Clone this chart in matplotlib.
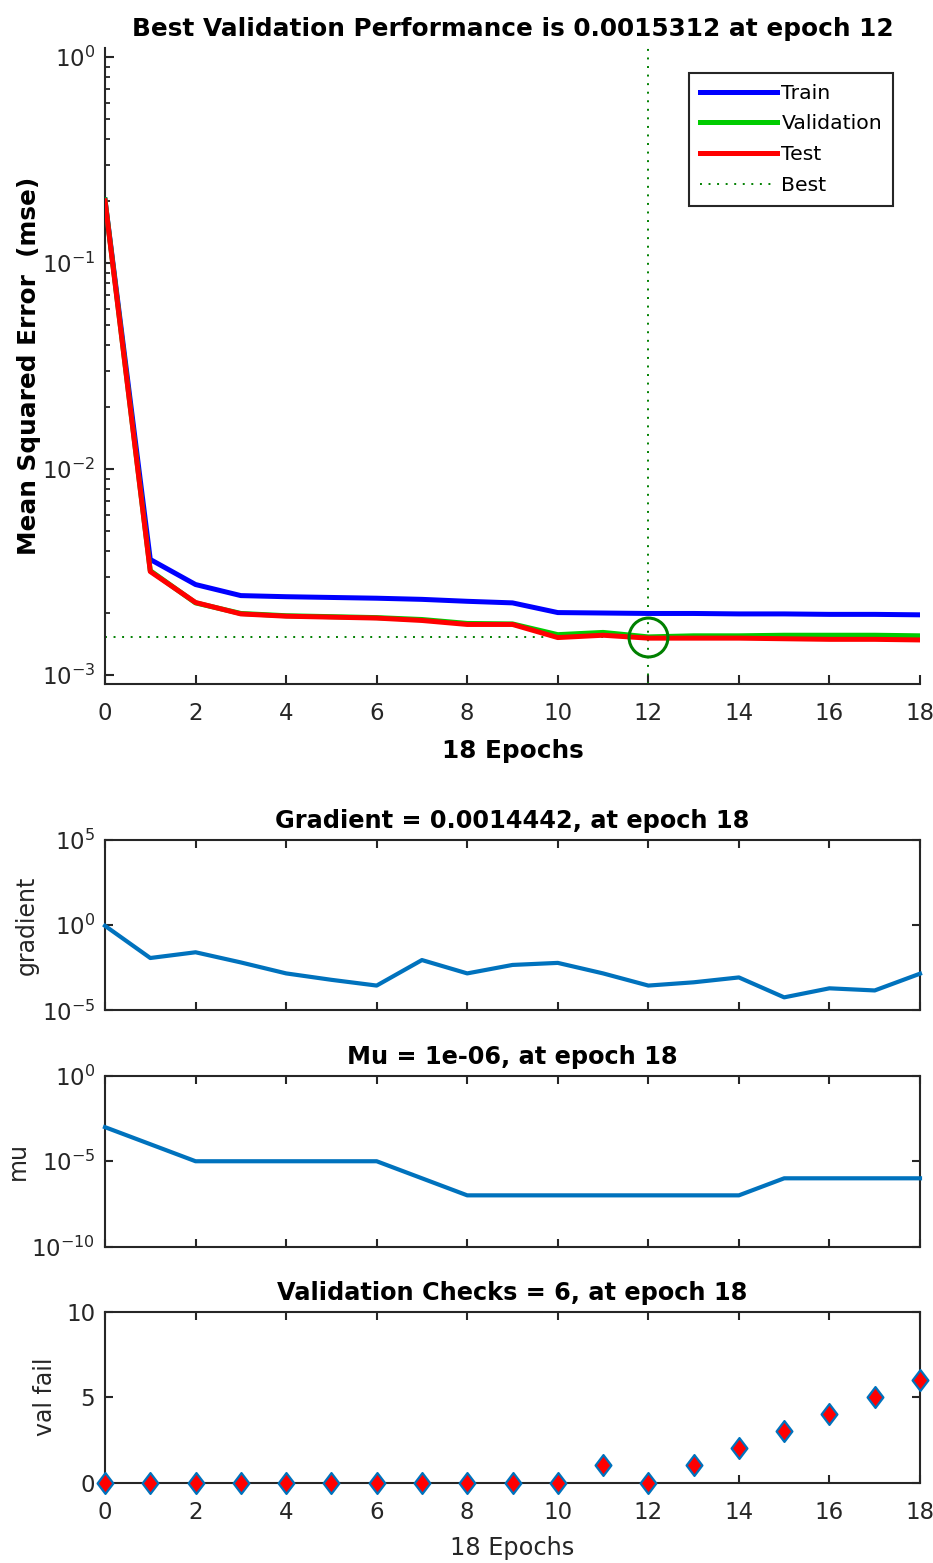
import numpy as np
import matplotlib
matplotlib.use("Agg")
import matplotlib.pyplot as plt
from matplotlib.ticker import LogLocator, NullFormatter, NullLocator, FixedLocator
from matplotlib.path import Path

# ---------------- data ----------------
epochs = list(range(19))
train_perf = [0.203, 0.00364, 0.00275, 0.00243, 0.00240, 0.00238, 0.00236, 0.00233,
              0.00228, 0.00224, 0.00201, 0.00200, 0.00199, 0.00199, 0.00198, 0.00198,
              0.00197, 0.00197, 0.00196]
val_perf = [0.203, 0.00321, 0.00224, 0.00199, 0.00194, 0.00192, 0.00190, 0.00186,
            0.00178, 0.00177, 0.00157, 0.00161, 0.0015312, 0.00155, 0.00155, 0.00156,
            0.00156, 0.00156, 0.00155]
test_perf = [0.201, 0.00318, 0.00225, 0.00198, 0.00193, 0.00191, 0.00189, 0.00184,
             0.00176, 0.00176, 0.00152, 0.00156, 0.00151, 0.00151, 0.00151, 0.00150,
             0.00149, 0.00149, 0.00148]
best_epoch = 12
best_perf = 0.0015312
gradient = [0.93, 0.012, 0.026, 0.0066, 0.0015, 0.00063, 0.00029, 0.0091, 0.0015,
            0.0047, 0.0062, 0.0015, 0.00029, 0.00045, 0.00087, 5.9e-5, 0.0002,
            0.00015, 0.0014442]
mu = [1e-3, 1e-4, 1e-5, 1e-5, 1e-5, 1e-5, 1e-5, 1e-6, 1e-7, 1e-7, 1e-7, 1e-7,
      1e-7, 1e-7, 1e-7, 1e-6, 1e-6, 1e-6, 1e-6]
val_fail = [0, 0, 0, 0, 0, 0, 0, 0, 0, 0, 0, 1, 0, 1, 2, 3, 4, 5, 6]
xticks = list(range(0, 19, 2))

title_perf = "Best Validation Performance is 0.0015312 at epoch 12"
title_grad = "Gradient = 0.0014442, at epoch 18"
title_mu = "Mu = 1e-06, at epoch 18"
title_val = "Validation Checks = 6, at epoch 18"

# ---------------- style ----------------
AX = "#262626"
plt.rcParams['font.family'] = ['DejaVu Sans']
plt.rcParams['axes.edgecolor'] = AX
plt.rcParams['xtick.color'] = AX
plt.rcParams['ytick.color'] = AX
plt.rcParams['axes.linewidth'] = 1.5
plt.rcParams['axes.unicode_minus'] = False

W, H = 933, 1563
fig = plt.figure(figsize=(W / 100, H / 100), dpi=100)

def rect(l, t, r, b):
    return [l / W, 1 - b / H, (r - l) / W, (b - t) / H]

ax1 = fig.add_axes(rect(105, 48, 920, 684))
ax2 = fig.add_axes(rect(105, 840, 920, 1010.5))
ax3 = fig.add_axes(rect(105, 1076, 920, 1246.5))
ax4 = fig.add_axes(rect(105, 1312, 920, 1482.5))

TICK_FS = 16.5
BLUE = "#0072BD"

# ---------- top: performance ----------
ax1.semilogy(epochs, train_perf, color=(0, 0, 1), lw=3.6, label="Train", zorder=3)
ax1.semilogy(epochs, val_perf, color=(0, 0.8, 0), lw=3.6, label="Validation", zorder=3)
ax1.semilogy(epochs, test_perf, color=(1, 0, 0), lw=3.6, label="Test", zorder=3)
best_ls = (0, (1, 3.4))
ax1.axvline(best_epoch, color=(0, 0.5, 0), lw=1.4, ls=best_ls, zorder=2, label="Best")
ax1.plot([0, best_epoch], [best_perf, best_perf], color=(0, 0.5, 0), lw=1.4, ls=best_ls, zorder=2)
ax1.plot([best_epoch], [best_perf], marker='o', ms=28, mfc='none', mec=(0, 0.5, 0),
         mew=2.2, zorder=4)
ax1.set_xlim(0, 18)
ax1.set_ylim(10 ** -3.0437, 10 ** 0.045)
ax1.spines['top'].set_visible(False)
ax1.spines['right'].set_visible(False)
ax1.yaxis.set_major_locator(LogLocator(base=10, numticks=10))
ax1.yaxis.set_minor_locator(LogLocator(base=10, subs=np.arange(2, 10), numticks=20))
ax1.yaxis.set_minor_formatter(NullFormatter())
ax1.set_xticks(xticks)
ax1.tick_params(axis='both', which='major', direction='in', length=6.5, width=1.5,
                labelsize=TICK_FS, top=False, right=False)
ax1.tick_params(axis='y', which='minor', direction='in', length=3.8, width=1.3)
ax1.tick_params(axis='x', pad=13)
ax1.tick_params(axis='y', pad=7)
ax1.set_title(title_perf, fontsize=17.8, fontweight='bold', pad=8.5)
ax1.set_ylabel("Mean Squared Error  (mse)", fontsize=17.8, fontweight='bold')
ax1.yaxis.set_label_coords((41 - 105) / 815, 0.5)
ax1.set_xlabel("18 Epochs", fontsize=17.8, fontweight='bold')
ax1.xaxis.set_label_coords(0.5, (684 - 739) / 636)
leg = ax1.legend(loc='upper right', bbox_to_anchor=((893 - 105) / 815, (684 - 73) / 636),
                 borderaxespad=0, fontsize=14.7, fancybox=False, framealpha=1,
                 edgecolor=AX, handlelength=3.8, handletextpad=0.2, labelspacing=0.57,
                 borderpad=0.53)
leg.get_frame().set_linewidth(1.5)

# ---------- gradient ----------
def box_axes(ax):
    ax.set_xlim(0, 18)
    ax.set_xticks(xticks)
    ax.yaxis.set_minor_locator(NullLocator())
    ax.tick_params(axis='both', which='major', direction='in', length=6, width=1.5,
                   labelsize=TICK_FS, top=True, right=True, pad=7)

ax2.semilogy(epochs, gradient, color=BLUE, lw=3.0, clip_on=False, zorder=3)
ax2.set_ylim(1e-5, 1e5)
ax2.yaxis.set_major_locator(FixedLocator([1e-5, 1e0, 1e5]))
box_axes(ax2)
ax2.tick_params(axis='x', labelbottom=False)
ax2.set_title(title_grad, fontsize=17.3, fontweight='bold', pad=8.4)
ax2.set_ylabel("gradient", fontsize=17, color=AX)
ax2.yaxis.set_label_coords((39 - 105) / 815, 0.5)

# ---------- mu ----------
ax3.semilogy(epochs, mu, color=BLUE, lw=3.0, clip_on=False, zorder=3)
ax3.set_ylim(1e-10, 1e0)
ax3.yaxis.set_major_locator(FixedLocator([1e-10, 1e-5, 1e0]))
box_axes(ax3)
ax3.tick_params(axis='x', labelbottom=False)
ax3.set_title(title_mu, fontsize=17.3, fontweight='bold', pad=8.4)
ax3.set_ylabel("mu", fontsize=17, color=AX)
ax3.yaxis.set_label_coords((30 - 105) / 815, 0.5)

# ---------- validation checks ----------
diamond = Path([(0, 1), (0.76, 0), (0, -1), (-0.76, 0), (0, 1)],
               [Path.MOVETO, Path.LINETO, Path.LINETO, Path.LINETO, Path.CLOSEPOLY])
ax4.plot(epochs, val_fail, ls='none', marker=diamond, ms=15, mfc=(1, 0, 0),
         mec=BLUE, mew=1.6, clip_on=False, zorder=4)
ax4.set_ylim(0, 10)
ax4.set_yticks([0, 5, 10])
box_axes(ax4)
ax4.tick_params(axis='x', pad=13.5)
ax4.set_title(title_val, fontsize=17.3, fontweight='bold', pad=8.4)
ax4.set_ylabel("val fail", fontsize=17, color=AX)
ax4.yaxis.set_label_coords((57.5 - 105) / 815, 0.5)
ax4.set_xlabel("18 Epochs", fontsize=17.3, color=AX)
ax4.xaxis.set_label_coords(0.5, (1482.5 - 1536) / 170.5)

fig.savefig("out.png", dpi=100)
